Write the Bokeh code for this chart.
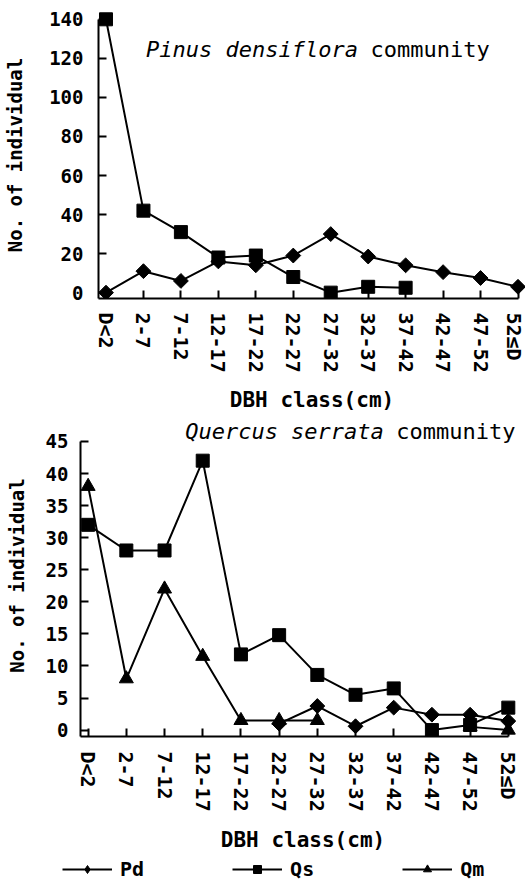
import numpy as np
from bokeh.plotting import figure
from bokeh.models import Range1d, FixedTicker, Label, Legend, LegendItem
from bokeh.embed import file_html
from bokeh.resources import INLINE

nan = float("nan")
cats = ["D<2", "2-7", "7-12", "12-17", "17-22", "22-27", "27-32",
        "32-37", "37-42", "42-47", "47-52", "52≤D"]

# Pinus densiflora community
pd_top = [0, 11, 6, 16, 14, 19, 30, 18.5, 14, 10.5, 7.5, 3]
qs_top = [140, 42, 31, 18, 19, 8, 0, 3, 2.5, nan, nan, nan]
top_yticks = [0, 20, 40, 60, 80, 100, 120, 140]

# Quercus serrata community
pd_bot = [nan, nan, nan, nan, nan, 1, 3.75, 0.6, 3.5, 2.4, 2.4, 1.4]
qs_bot = [32, 28, 28, 42, 11.8, 14.8, 8.6, 5.5, 6.5, 0, 0.8, 3.5]
qm_bot = [38, 8, 22, 11.5, 1.5, 1.5, 1.5, nan, nan, nan, 0.5, 0]
bot_yticks = [0, 5, 10, 15, 20, 25, 30, 35, 40, 45]

series_names = ["Pd", "Qs", "Qm"]

xs = list(range(len(cats)))
FONT = "DejaVu Sans Mono"
MARKERS = {"Pd": ("square", 10.5, np.pi / 4), "Qs": ("square", 13, 0.0),
           "Qm": ("triangle", 14, 0.0)}
LEGEND_MARKERS = {"Pd": ("diamond", 14, 0.0), "Qs": ("square", 11, 0.0),
                  "Qm": ("triangle", 12, 0.0)}


def style(p, yticks, ymin, ymax, ylab_standoff, yaxis_standoff, xlab_standoff, xaxis_standoff):
    p.xgrid.visible = False
    p.ygrid.visible = False
    p.outline_line_color = None
    p.xaxis.ticker = FixedTicker(ticks=xs)
    p.xaxis.major_label_overrides = {i: c for i, c in enumerate(cats)}
    p.xaxis.major_label_orientation = "vertical"
    p.yaxis.ticker = FixedTicker(ticks=yticks)
    p.xaxis.bounds = (p.x_range.start, xs[-1])
    p.yaxis.bounds = (ymin, ymax)
    for ax in (p.xaxis, p.yaxis):
        ax.axis_line_width = 2
        ax.axis_line_color = "black"
        ax.major_tick_line_width = 2
        ax.major_tick_line_color = "black"
        ax.major_tick_in = 8
        ax.major_tick_out = 0
        ax.minor_tick_line_color = None
        ax.major_label_text_font = FONT
        ax.major_label_text_font_size = "20px"
        ax.major_label_text_font_style = "bold"
        ax.major_label_text_color = "black"
        ax.axis_label_text_font = FONT
        ax.axis_label_text_font_style = "bold"
        ax.axis_label_text_color = "black"
    p.yaxis.major_label_text_font_size = "19px"
    p.yaxis.axis_label = "No. of individual"
    p.yaxis.axis_label_text_font_size = "19px"
    p.yaxis.major_label_standoff = ylab_standoff
    p.yaxis.axis_label_standoff = yaxis_standoff
    p.xaxis.axis_label = "DBH class(cm)"
    p.xaxis.axis_label_text_font_size = "21px"
    p.xaxis.major_label_standoff = xlab_standoff
    p.xaxis.axis_label_standoff = xaxis_standoff


def series(p, xv, ys, name, markers=MARKERS):
    marker, size, angle = markers[name]
    l = p.line(xv, ys, line_color="black", line_width=2)
    s = p.scatter(xv, ys, marker=marker, size=size, angle=angle,
                  fill_color="black", line_color="black")
    return [l, s]


def title(p, x, y, italic, rest):
    p.add_layout(Label(x=x, y=y, text=italic, text_font=FONT,
                       text_font_style="italic", text_font_size="22px",
                       text_baseline="alphabetic", text_color="black"))
    p.add_layout(Label(x=x, y=y, x_offset=(len(italic) + 1) * 0.6 * 22,
                       text=rest, text_font=FONT, text_font_size="22px",
                       text_baseline="alphabetic", text_color="black"))


# ---------- top figure ----------
p1 = figure(width=525, height=414, x_range=Range1d(-0.2, 11.2),
            y_range=Range1d(-3, 144), output_backend="svg",
            toolbar_location=None, min_border_left=98, min_border_right=0,
            min_border_top=11, min_border_bottom=111)
style(p1, top_yticks, -3, 140, 15, 20, 14, 12)
series(p1, xs, pd_top, "Pd")
series(p1, xs, qs_top, "Qs")
title(p1, 1.07, 124.4, "Pinus densiflora", "community")

# ---------- bottom figure ----------
p2 = figure(width=525, height=440, x_range=Range1d(-0.2, 11.45),
            y_range=Range1d(-1, 49.2), output_backend="svg",
            toolbar_location=None, min_border_left=80, min_border_right=0,
            min_border_top=0, min_border_bottom=117)
style(p2, bot_yticks, -1, 45, 12, 15, 15, 13)
series(p2, xs, pd_bot, "Pd")
series(p2, xs, qs_bot, "Qs")
series(p2, xs, qm_bot, "Qm")
title(p2, 2.54, 46.55, "Quercus serrata", "community")

# ---------- legend strip ----------
p3 = figure(width=525, height=30, output_backend="svg", toolbar_location=None,
            x_range=Range1d(0, 1), y_range=Range1d(0, 1),
            x_axis_location=None, y_axis_location=None,
            min_border=0, min_border_left=0, min_border_right=0,
            min_border_top=0, min_border_bottom=0)
p3.xgrid.visible = False
p3.ygrid.visible = False
p3.outline_line_color = None
items = [LegendItem(label=n, renderers=series(p3, [nan], [nan], n, LEGEND_MARKERS))
         for n in series_names]
legend = Legend(items=items, orientation="horizontal", location=(62, 3),
                glyph_width=50, glyph_height=20, label_standoff=8,
                spacing=88, padding=0, margin=0, border_line_color=None,
                background_fill_alpha=0, label_text_font=FONT,
                label_text_font_style="bold", label_text_color="black",
                label_text_font_size="20px", label_height=20)
p3.add_layout(legend)

open("out.html", "w").write(file_html([p1, p2, p3], INLINE))
